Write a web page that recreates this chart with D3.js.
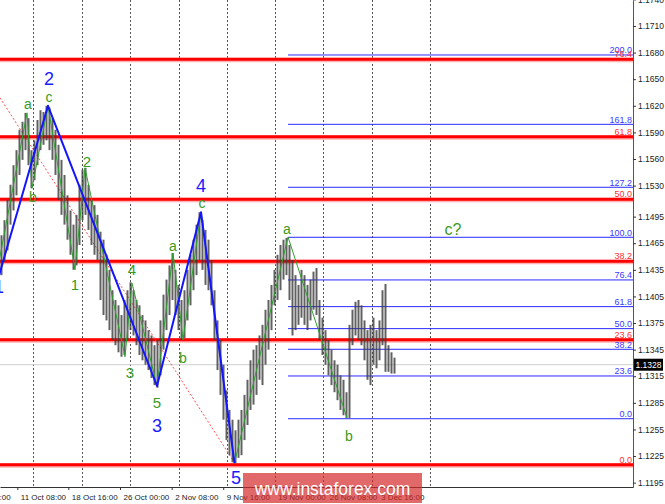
<!DOCTYPE html>
<html><head><meta charset="utf-8">
<script src="https://cdn.jsdelivr.net/npm/d3@7"></script>
<style>body{margin:0;background:#fff}svg{display:block}</style>
</head><body>
<svg id="c" width="665" height="504"></svg>
<script>
// ---- DATA ----
const barHigh = [1.1474,1.1491,1.1514,1.1531,1.1553,1.1570,1.1593,1.1602,1.1612,1.1606,
1.1570,1.1581,1.1604,1.1615,1.1613,1.1620,1.1618,1.1606,1.1593,1.1576,
1.1559,1.1542,1.1519,1.1502,1.1486,1.1497,1.1531,1.1548,1.1550,1.1531,
1.1514,1.1508,1.1497,1.1478,1.1469,1.1452,1.1435,1.1412,1.1401,1.1395,
1.1384,1.1401,1.1412,1.1421,1.1412,1.1401,1.1395,1.1384,1.1378,1.1367,
1.1361,1.1350,1.1356,1.1378,1.1407,1.1424,1.1440,1.1454,1.1435,1.1418,
1.1401,1.1412,1.1435,1.1452,1.1469,1.1486,1.1500,1.1491,1.1480,1.1469,
1.1446,1.1412,1.1378,1.1356,1.1328,1.1299,1.1277,1.1266,1.1254,1.1266,
1.1277,1.1294,1.1311,1.1333,1.1345,1.1350,1.1361,1.1373,1.1390,1.1401,
1.1418,1.1435,1.1452,1.1463,1.1469,1.1471,1.1463,1.1446,1.1429,1.1418,
1.1435,1.1429,1.1418,1.1424,1.1433,1.1437,1.1401,1.1381,1.1367,1.1356,
1.1345,1.1333,1.1328,1.1316,1.1311,1.1297,1.1373,1.1390,1.1399,1.1401,
1.1395,1.1378,1.1367,1.1373,1.1381,1.1367,1.1378,1.1412,1.1419,1.1350,
1.1342,1.1336];
const barLow = [1.1429,1.1444,1.1457,1.1486,1.1502,1.1519,1.1542,1.1559,1.1570,1.1553,
1.1527,1.1536,1.1553,1.1570,1.1576,1.1581,1.1570,1.1559,1.1542,1.1514,
1.1497,1.1486,1.1469,1.1452,1.1435,1.1440,1.1463,1.1491,1.1497,1.1480,
1.1463,1.1452,1.1446,1.1401,1.1384,1.1378,1.1367,1.1356,1.1350,1.1342,
1.1337,1.1339,1.1356,1.1367,1.1361,1.1350,1.1339,1.1333,1.1328,1.1322,
1.1313,1.1305,1.1302,1.1316,1.1345,1.1367,1.1384,1.1401,1.1384,1.1367,
1.1356,1.1358,1.1378,1.1395,1.1412,1.1429,1.1446,1.1435,1.1418,1.1412,
1.1395,1.1356,1.1322,1.1294,1.1266,1.1243,1.1226,1.1218,1.1217,1.1223,
1.1226,1.1243,1.1260,1.1277,1.1283,1.1294,1.1311,1.1305,1.1328,1.1345,
1.1367,1.1395,1.1401,1.1412,1.1424,1.1429,1.1401,1.1361,1.1367,1.1373,
1.1381,1.1373,1.1367,1.1378,1.1390,1.1384,1.1356,1.1339,1.1328,1.1316,
1.1305,1.1297,1.1288,1.1277,1.1271,1.1268,1.1268,1.1350,1.1361,1.1356,
1.1350,1.1333,1.1311,1.1305,1.1328,1.1324,1.1333,1.1350,1.1320,1.1320,
1.1318,1.1318];
const lastPrice = 1.1328;

const priceTicks = [1.1740,1.1710,1.1680,1.1650,1.1620,1.1590,1.1560,1.1530,1.1495,1.1465,
1.1435,1.1405,1.1375,1.1345,1.1315,1.1285,1.1255,1.1225,1.1195];
const timeLabels = ["4 Oct 00:00","11 Oct 08:00","18 Oct 16:00","26 Oct 00:00","2 Nov 08:00",
"9 Nov 16:00","19 Nov 00:00","26 Nov 08:00","3 Dec 16:00"];
const timeLabelBars = [-11.4,5.77,22.77,40,57.23,74.4,91.57,108.73,125.9];
const gridBars = [11.1,27.23,43.33,59.57,75.67,91.67,107.77,124,143.33];

const redFibLevels = [1.16724,1.15852,1.15146,1.14446,1.13562,1.12153];
const redFibLabels = ["76.4","61.8","50.0","38.2","23.6","0.0"];
const blueFibLevels = [1.16773,1.15991,1.15281,1.14717,1.14236,1.13935,1.13687,1.13454,1.13153,1.12671];
const blueFibLabels = ["200.0","161.8","127.2","100.0","76.4","61.8","50.0","38.2","23.6","0.0"];
const blueFibStartBar = 96;

const blueWaveBars = [-2,16,52.33,67,78.17];
const blueWavePrices = [1.1409,1.1620,1.1304,1.1500,1.1217];
const greenWaveBars = [-1,9,10.67,16,25,28.33,41.67,44,52.33,57.67,61,67,78.17,96,115.67];
const greenWavePrices = [1.1432,1.1612,1.1527,1.1620,1.1435,1.1550,1.1337,1.1420,1.1304,1.1454,1.1356,1.1500,1.1217,1.1472,1.1268];
const redTrendBars = [0,77.67];
const redTrendPrices = [1.1629,1.1220];

const blueLabelText = ["1","2","3","4","5"];
const blueLabelBars = [-0.33,16.33,52.33,67,78.67];
const blueLabelPrices = [1.1416,1.1650,1.1259,1.1530,1.1200];
const greenLabelText = ["a","b","c","1","2","3","4","5","a","b","c","a","b","c?"];
const greenLabelBars = [9.33,11,16.33,25,29,43.33,44,52.33,57.67,61,67.33,95.67,116.33,151];
const greenLabelPrices = [1.1622,1.1517,1.1630,1.1419,1.1557,1.1319,1.1435,1.1285,1.1462,1.1336,1.1510,1.1481,1.1248,1.1480];

// ---- CHART ----
const W = 633, H = 487;
const svg = d3.select("#c");
const x = d3.scaleLinear().domain([0, 211]).range([0, W]);
const y = d3.scaleLinear().domain([1.11901, 1.17393]).range([H, 0]);
const font = "'Liberation Sans', Arial, sans-serif";

svg.append("defs").append("clipPath").attr("id","plot")
  .append("rect").attr("x",0).attr("y",0).attr("width",W).attr("height",H);
const g = svg.append("g").attr("clip-path","url(#plot)");

// vertical dotted grid
g.selectAll("line.grid").data(gridBars).join("line")
  .attr("x1", d => Math.round(x(d))+0.5).attr("x2", d => Math.round(x(d))+0.5)
  .attr("y1", 0).attr("y2", H)
  .attr("stroke", "#555").attr("stroke-width", 1).attr("stroke-dasharray", "2,2");

// current price line
g.append("line").attr("x1",0).attr("x2",W)
  .attr("y1", y(lastPrice)).attr("y2", y(lastPrice))
  .attr("stroke", "#cfcfcf").attr("stroke-width", 1);

// red fib lines
g.selectAll("line.rh").data(redFibLevels).join("line")
  .attr("x1",0).attr("x2",W).attr("y1", d=>y(d)+0.8).attr("y2", d=>y(d)+0.8)
  .attr("stroke","#ffb0b0").attr("stroke-width",4.5);
g.selectAll("line.rf").data(redFibLevels).join("line")
  .attr("x1",0).attr("x2",W).attr("y1", d=>y(d)).attr("y2", d=>y(d))
  .attr("stroke","#ff0000").attr("stroke-width",3);

// blue fib lines
g.selectAll("line.bf").data(blueFibLevels).join("line")
  .attr("x1", x(blueFibStartBar)).attr("x2", W).attr("y1", d=>y(d)).attr("y2", d=>y(d))
  .attr("stroke","#2a2aff").attr("stroke-width",1);

// red dotted trend
g.append("path")
  .attr("d", d3.line()(redTrendBars.map((b,i)=>[x(b), y(redTrendPrices[i])])))
  .attr("fill","none").attr("stroke","#ff5050").attr("stroke-width",1).attr("stroke-dasharray","2,2");

// bars
g.selectAll("line.bar").data(barHigh).join("line")
  .attr("x1", (d,i)=>x(i+0.5)).attr("x2", (d,i)=>x(i+0.5))
  .attr("y1", d=>y(d)).attr("y2", (d,i)=>y(barLow[i]))
  .attr("stroke", "#3a3a3a").attr("stroke-width", 2).attr("stroke-opacity", 0.8);

// green wave
g.append("path")
  .attr("d", d3.line()(greenWaveBars.map((b,i)=>[x(b), y(greenWavePrices[i])])))
  .attr("fill","none").attr("stroke","#2f9f2f").attr("stroke-width",1);

// blue wave
g.append("path")
  .attr("d", d3.line()(blueWaveBars.map((b,i)=>[x(b), y(blueWavePrices[i])])))
  .attr("fill","none").attr("stroke","#1414ff").attr("stroke-width",2).attr("stroke-linejoin","round");

// fib labels
g.selectAll("text.bl").data(blueFibLevels).join("text")
  .attr("x", W-1).attr("y", d=>y(d)-1.5).attr("text-anchor","end")
  .attr("font-family", font).attr("font-size", 9).attr("fill","#3a3aff")
  .text((d,i)=>blueFibLabels[i]);
g.selectAll("text.rl").data(redFibLevels).join("text")
  .attr("x", W-1).attr("y", d=>y(d)-2).attr("text-anchor","end")
  .attr("font-family", font).attr("font-size", 9).attr("fill","#ff3030")
  .text((d,i)=>redFibLabels[i]);

// wave labels
g.selectAll("text.wb").data(blueLabelText).join("text")
  .attr("x", (d,i)=>x(blueLabelBars[i])).attr("y", (d,i)=>y(blueLabelPrices[i]))
  .attr("text-anchor","middle").attr("dominant-baseline","central")
  .attr("font-family", font).attr("font-size", 18).attr("fill","#1a1aff")
  .text(d=>d);
g.selectAll("text.wg").data(greenLabelText).join("text")
  .attr("x", (d,i)=>x(greenLabelBars[i])).attr("y", (d,i)=>y(greenLabelPrices[i]))
  .attr("text-anchor","middle").attr("dominant-baseline","central")
  .attr("font-family", font).attr("font-size", d=>/[0-9]/.test(d)?15:(d==="c?"?16:14))
  .attr("fill","#3a9a22")
  .text(d=>d);

// axes
const ya = svg.append("g").attr("transform",`translate(${W},0)`)
  .call(d3.axisRight(y).tickValues(priceTicks).tickSize(3).tickSizeOuter(0).tickFormat(d3.format(".4f")));
ya.select(".domain").attr("stroke","#555");
ya.selectAll(".tick line").attr("stroke","#333");
ya.selectAll(".tick text").attr("x",5).attr("font-family",font).attr("font-size",8.5).attr("fill","#222");

const xa = svg.append("g").attr("transform",`translate(0,${H})`)
  .call(d3.axisBottom(x).tickValues(timeLabelBars).tickSize(3).tickSizeOuter(0).tickFormat((d,i)=>timeLabels[i]));
xa.select(".domain").attr("stroke","#333");
xa.selectAll(".tick line").attr("stroke","#333");
xa.selectAll(".tick text").attr("text-anchor","start").attr("x",3).attr("y",7)
  .attr("font-family",font).attr("font-size",8).attr("fill","#222");

// current price box
svg.append("rect").attr("x", W+1).attr("y", y(lastPrice)-6).attr("width", 29).attr("height", 12).attr("fill","#000");
svg.append("text").attr("x", W+15.5).attr("y", y(lastPrice)).attr("text-anchor","middle")
  .attr("dominant-baseline","central").attr("font-family",font).attr("font-size",8.5).attr("fill","#fff")
  .text(d3.format(".4f")(lastPrice));

// watermark
svg.append("rect").attr("x",243).attr("y",473).attr("width",179).attr("height",30)
  .attr("fill","#d42a2a").attr("fill-opacity",0.7);
svg.append("text").attr("x",332.5).attr("y",495).attr("text-anchor","middle")
  .attr("font-family",font).attr("font-size",17.5).attr("fill","#fff")
  .text("www.instaforex.com");
</script>
</body></html>
